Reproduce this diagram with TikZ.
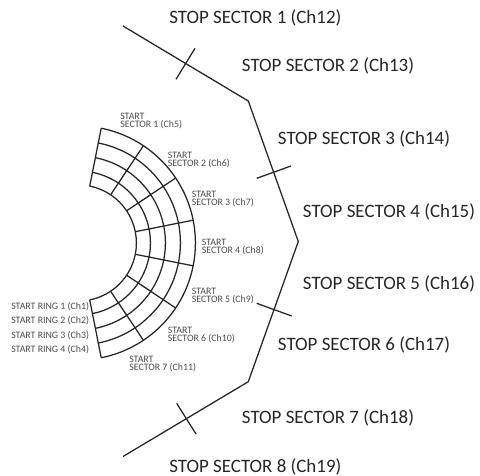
\documentclass[tikz,border=0pt]{standalone}
\usepackage{fontspec}
\setmainfont{Carlito}
\usepackage{tikz}

\begin{document}
\begin{tikzpicture}[x=0.75pt,y=0.75pt,
	stoplabel/.style={anchor=west, inner sep=0pt, yshift=-0.75pt, text=black!85, font=\fontsize{14.2}{16}\selectfont},
	startlabel/.style={anchor=west, inner sep=0pt, yshift=-0.75pt, align=left, text=black!70, font=\fontsize{7.4}{6}\selectfont},
	wire/.style={line width=0.95pt, black!85}]
	\useasboundingbox (0,0) rectangle (480,476);
	% start detector, centre of the rings
	\coordinate (C) at (78.4,233);
	\foreach \r in {58,72,87,102,117}
		\draw[wire] (C) ++(78.75:\r) arc[start angle=78.75, end angle=-78.75, radius=\r];
	\foreach \a in {78.75,56.25,33.75,11.25,-11.25,-33.75,-56.25,-78.75}
		\draw[wire] (C) ++(\a:58) -- ++(\a:59);
	% stop detector
	\coordinate (P1) at (123,450);
	\coordinate (P2) at (248.3,375);
	\coordinate (P3) at (298.3,234.5);
	\coordinate (P4) at (248.3,94.3);
	\coordinate (P5) at (123,19.5);
	\draw[wire] (P1) -- (P2) -- (P3) -- (P4) -- (P5);
	\coordinate (T1a) at (195,427.7);
	\coordinate (T1b) at (176,396.7);
	\coordinate (T2a) at (291,310);
	\coordinate (T2b) at (256.7,297.7);
	\coordinate (T3a) at (256.7,172.7);
	\coordinate (T3b) at (291.7,160);
	\coordinate (T4a) at (176.7,72.7);
	\coordinate (T4b) at (196,42);
	\draw[wire] (T1a) -- (T1b);
	\draw[wire] (T2a) -- (T2b);
	\draw[wire] (T3a) -- (T3b);
	\draw[wire] (T4a) -- (T4b);
	\node[stoplabel] (stop1) at (169,459) {STOP SECTOR 1 (Ch12)};
	\node[stoplabel] (stop2) at (241.7,411) {STOP SECTOR 2 (Ch13)};
	\node[stoplabel] (stop3) at (277.7,338) {STOP SECTOR 3 (Ch14)};
	\node[stoplabel] (stop4) at (302.7,265.3) {STOP SECTOR 4 (Ch15)};
	\node[stoplabel] (stop5) at (302.7,192.7) {STOP SECTOR 5 (Ch16)};
	\node[stoplabel] (stop6) at (277.7,131.7) {STOP SECTOR 6 (Ch17)};
	\node[stoplabel] (stop7) at (241.7,59.3) {STOP SECTOR 7 (Ch18)};
	\node[stoplabel] (stop8) at (169,10.3) {STOP SECTOR 8 (Ch19)};
	\node[startlabel] (start1) at (120,356) {START\\SECTOR 1 (Ch5)};
	\node[startlabel] (start2) at (167.7,317) {START\\SECTOR 2 (Ch6)};
	\node[startlabel] (start3) at (191.7,278) {START\\SECTOR 3 (Ch7)};
	\node[startlabel] (start4) at (201.7,230) {START\\SECTOR 4 (Ch8)};
	\node[startlabel] (start5) at (191.7,181) {START\\SECTOR 5 (Ch9)};
	\node[startlabel] (start6) at (167.7,142) {START\\SECTOR 6 (Ch10)};
	\node[startlabel] (start7) at (129,113) {START\\SECTOR 7 (Ch11)};
	\node[startlabel] (ring1) at (11,170.3) {START RING 1 (Ch1)};
	\node[startlabel] (ring2) at (11,156) {START RING 2 (Ch2)};
	\node[startlabel] (ring3) at (11,141.3) {START RING 3 (Ch3)};
	\node[startlabel] (ring4) at (11,127) {START RING 4 (Ch4)};
\end{tikzpicture}
\end{document}
